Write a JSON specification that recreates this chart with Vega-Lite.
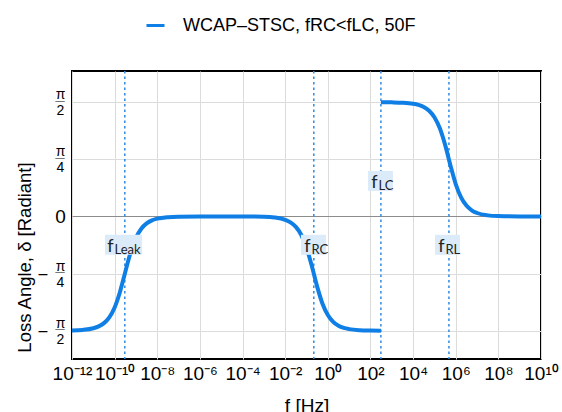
{
  "$schema": "https://vega.github.io/schema/vega-lite/v6.json",
  "width": 469,
  "height": 288,
  "autosize": {"type": "none"},
  "padding": {"left": 72, "top": 71, "right": 21, "bottom": 53},
  "background": "white",
  "config": {
    "view": {"stroke": "#000", "strokeWidth": 2},
    "font": "Liberation Sans",
    "axis": {"domain": false, "ticks": false, "labelColor": "#000", "titleColor": "#000", "titleFontWeight": "normal", "titleFont": "Liberation Sans", "titleFontSize": 18}
  },
  "datasets": {
    "curve": [
      {"f": 1e-12, "delta": -1.5675, "seg": "a"},
      {"f": 3.162e-12, "delta": -1.5603, "seg": "a"},
      {"f": 1e-11, "delta": -1.5377, "seg": "a"},
      {"f": 1.778e-11, "delta": -1.512, "seg": "a"},
      {"f": 3.162e-11, "delta": -1.4665, "seg": "a"},
      {"f": 5.623e-11, "delta": -1.3867, "seg": "a"},
      {"f": 1e-10, "delta": -1.251, "seg": "a"},
      {"f": 1.778e-10, "delta": -1.0384, "seg": "a"},
      {"f": 3.162e-10, "delta": -0.7624, "seg": "a"},
      {"f": 5.623e-10, "delta": -0.4927, "seg": "a"},
      {"f": 1e-9, "delta": -0.2928, "seg": "a"},
      {"f": 1.778e-9, "delta": -0.1682, "seg": "a"},
      {"f": 3.162e-9, "delta": -0.0952, "seg": "a"},
      {"f": 5.623e-9, "delta": -0.0537, "seg": "a"},
      {"f": 1e-8, "delta": -0.0302, "seg": "a"},
      {"f": 3.162e-8, "delta": -0.0095, "seg": "a"},
      {"f": 1e-7, "delta": -0.003, "seg": "a"},
      {"f": 1e-6, "delta": -0.0004, "seg": "a"},
      {"f": 1e-5, "delta": -0.0001, "seg": "a"},
      {"f": 1e-4, "delta": -0.0005, "seg": "a"},
      {"f": 1e-3, "delta": -0.0046, "seg": "a"},
      {"f": 3.162e-3, "delta": -0.0144, "seg": "a"},
      {"f": 0.01, "delta": -0.0457, "seg": "a"},
      {"f": 0.01778, "delta": -0.0811, "seg": "a"},
      {"f": 0.03162, "delta": -0.1436, "seg": "a"},
      {"f": 0.05623, "delta": -0.2516, "seg": "a"},
      {"f": 0.1, "delta": -0.4288, "seg": "a"},
      {"f": 0.1778, "delta": -0.6826, "seg": "a"},
      {"f": 0.3162, "delta": -0.9654, "seg": "a"},
      {"f": 0.5623, "delta": -1.1999, "seg": "a"},
      {"f": 1, "delta": -1.3554, "seg": "a"},
      {"f": 1.778, "delta": -1.4484, "seg": "a"},
      {"f": 3.162, "delta": -1.5017, "seg": "a"},
      {"f": 5.623, "delta": -1.5319, "seg": "a"},
      {"f": 10, "delta": -1.5489, "seg": "a"},
      {"f": 31.62, "delta": -1.5639, "seg": "a"},
      {"f": 100, "delta": -1.5686, "seg": "a"},
      {"f": 309, "delta": -1.5701, "seg": "a"},
      {"f": 309, "delta": 1.5702, "seg": "b"},
      {"f": 1000, "delta": 1.5687, "seg": "b"},
      {"f": 3162, "delta": 1.5642, "seg": "b"},
      {"f": 1e4, "delta": 1.5499, "seg": "b"},
      {"f": 1.778e4, "delta": 1.5337, "seg": "b"},
      {"f": 3.162e4, "delta": 1.5048, "seg": "b"},
      {"f": 5.623e4, "delta": 1.4538, "seg": "b"},
      {"f": 1e5, "delta": 1.3648, "seg": "b"},
      {"f": 1.778e5, "delta": 1.2151, "seg": "b"},
      {"f": 3.162e5, "delta": 0.9872, "seg": "b"},
      {"f": 5.623e5, "delta": 0.705, "seg": "b"},
      {"f": 1e6, "delta": 0.4462, "seg": "b"},
      {"f": 1.778e6, "delta": 0.2622, "seg": "b"},
      {"f": 3.162e6, "delta": 0.1502, "seg": "b"},
      {"f": 5.623e6, "delta": 0.0849, "seg": "b"},
      {"f": 1e7, "delta": 0.0478, "seg": "b"},
      {"f": 3.162e7, "delta": 0.0151, "seg": "b"},
      {"f": 1e8, "delta": 0.0048, "seg": "b"},
      {"f": 1e9, "delta": 0.0005, "seg": "b"},
      {"f": 1e10, "delta": 0.0, "seg": "b"}
    ],
    "lines": [{"f": 3.0e-10}, {"f": 0.22}, {"f": 309}, {"f": 4.8e5}],
    "labels": [
      {"f": 2.6e-10, "delta": -0.39, "sub": "Leak"},
      {"f": 0.212, "delta": -0.39, "sub": "RC"},
      {"f": 295, "delta": 0.488, "sub": "LC"},
      {"f": 4.1e5, "delta": -0.39, "sub": "RL"}
    ],
    "neg": [{"f": 1e-12, "delta": -0.7853982}, {"f": 1e-12, "delta": -1.5707963}],
    "frac": [{"f": 1e-12, "delta": -1.5707963}, {"f": 1e-12, "delta": -0.7853982}, {"f": 1e-12, "delta": 0.7853982}, {"f": 1e-12, "delta": 1.5707963}]
  },
  "layer": [
    {
      "data": {"name": "lines"},
      "mark": {"type": "rule", "strokeDash": [2.5, 3], "strokeWidth": 1.5, "color": "#2e8ae6"},
      "encoding": {
        "x": {
          "field": "f", "type": "quantitative",
          "scale": {"type": "log", "domain": [1e-12, 1e10], "nice": false},
          "axis": {
            "title": "f [Hz]",
            "values": [1e-12, 1e-10, 1e-8, 1e-6, 1e-4, 1e-2, 1, 1e2, 1e4, 1e6, 1e8, 1e10],
            "labelExpr": "'10' + (datum.value < 1 ? '⁻' : '') + (abs(round(log(datum.value)/LN10)) >= 10 ? '¹' : '') + ['⁰','¹','²','³','⁴','⁵','⁶','⁷','⁸','⁹'][abs(round(log(datum.value)/LN10)) % 10]",
            "labelFontSize": 19,
            "labelFont": "Liberation Sans",
            "labelOverlap": false,
            "labelBound": false,
            "labelFlush": false,
            "labelPadding": 5,
            "grid": true,
            "gridColor": "#dcdcdc",
            "titleFontSize": 19,
            "titleY": 52,
            "titleBaseline": "alphabetic"
          }
        }
      }
    },
    {
      "data": {"name": "curve"},
      "mark": {"type": "line", "strokeWidth": 4, "interpolate": "monotone"},
      "encoding": {
        "x": {"field": "f", "type": "quantitative", "scale": {"type": "log", "domain": [1e-12, 1e10], "nice": false}},
        "y": {
          "field": "delta", "type": "quantitative",
          "scale": {"domain": [-1.96, 2.0], "nice": false, "zero": false},
          "axis": {
            "title": "Loss Angle, δ [Radiant]",
            "values": [-1.5707963, -0.7853982, 0, 0.7853982, 1.5707963],
            "labelExpr": "datum.value == 0 ? '0' : (abs(datum.value) > 1 ? ['π','2'] : ['π','4'])",
            "labelFontSize": {"condition": {"test": "datum.value == 0", "value": 19}, "value": 14},
            "labelLineHeight": 16,
            "labelAlign": "center",
            "labelOffset": {"condition": {"test": "datum.value == 0", "value": 0}, "value": -7.5},
            "labelPadding": 12,
            "grid": true,
            "gridColor": {"condition": {"test": "datum.value == 0", "value": "#8c8c8c"}, "value": "#dcdcdc"},
            "titleX": -48,
            "titleY": 186,
            "titleBaseline": "middle",
            "titleFontSize": 18.5
          }
        },
        "detail": {"field": "seg"},
        "color": {
          "datum": "WCAP–STSC, fRC<fLC, 50F",
          "scale": {"range": ["#0f7fe6"]},
          "legend": {
            "orient": "none", "legendX": 73, "legendY": -56, "title": null,
            "symbolType": "stroke", "symbolStrokeWidth": 3, "symbolSize": 324,
            "labelFontSize": 18, "labelFont": "Liberation Sans", "labelLimit": 400,
            "labelOffset": 17, "padding": 0, "labelColor": "#000"
          }
        }
      }
    },
    {
      "data": {"name": "labels"},
      "transform": [{"filter": "datum.sub == 'Leak'"}],
      "mark": {"type": "point", "shape": "M-1,-0.54L1,-0.54L1,0.54L-1,0.54Z", "size": 1369, "filled": true, "fill": "#dcebfa", "opacity": 1, "strokeWidth": 0},
      "encoding": {
        "x": {"field": "f", "type": "quantitative", "scale": {"type": "log", "domain": [1e-12, 1e10], "nice": false}},
        "y": {"field": "delta", "type": "quantitative", "scale": {"domain": [-1.96, 2.0], "nice": false, "zero": false}}
      }
    },
    {
      "data": {"name": "labels"},
      "transform": [{"filter": "datum.sub != 'Leak'"}],
      "mark": {"type": "point", "shape": "M-1,-0.8L1,-0.8L1,0.8L-1,0.8Z", "size": 625, "filled": true, "fill": "#dcebfa", "opacity": 1, "strokeWidth": 0},
      "encoding": {
        "x": {"field": "f", "type": "quantitative", "scale": {"type": "log", "domain": [1e-12, 1e10], "nice": false}},
        "y": {"field": "delta", "type": "quantitative", "scale": {"domain": [-1.96, 2.0], "nice": false, "zero": false}}
      }
    },
    {
      "data": {"name": "labels"},
      "transform": [{"filter": "datum.sub == 'Leak'"}],
      "layer": [
        {"mark": {"type": "text", "text": "f", "font": "Lato", "fontSize": 18, "align": "right", "baseline": "alphabetic", "dx": -10, "dy": 7, "color": "#222"}},
        {"mark": {"type": "text", "font": "Lato", "fontSize": 13, "align": "left", "baseline": "alphabetic", "dx": -9, "dy": 9, "color": "#222"}, "encoding": {"text": {"field": "sub"}}}
      ],
      "encoding": {
        "x": {"field": "f", "type": "quantitative", "scale": {"type": "log", "domain": [1e-12, 1e10], "nice": false}},
        "y": {"field": "delta", "type": "quantitative", "scale": {"domain": [-1.96, 2.0], "nice": false, "zero": false}}
      }
    },
    {
      "data": {"name": "labels"},
      "transform": [{"filter": "datum.sub != 'Leak'"}],
      "layer": [
        {"mark": {"type": "text", "text": "f", "font": "Lato", "fontSize": 18, "align": "right", "baseline": "alphabetic", "dx": -3, "dy": 7, "color": "#222"}},
        {"mark": {"type": "text", "font": "Lato", "fontSize": 13, "align": "left", "baseline": "alphabetic", "dx": -2, "dy": 9, "color": "#222"}, "encoding": {"text": {"field": "sub"}}}
      ],
      "encoding": {
        "x": {"field": "f", "type": "quantitative", "scale": {"type": "log", "domain": [1e-12, 1e10], "nice": false}},
        "y": {"field": "delta", "type": "quantitative", "scale": {"domain": [-1.96, 2.0], "nice": false, "zero": false}}
      }
    },
    {
      "data": {"name": "neg"},
      "mark": {"type": "text", "text": "–", "fontSize": 16, "align": "center", "baseline": "middle", "dx": -29, "color": "#000"},
      "encoding": {
        "x": {"field": "f", "type": "quantitative", "scale": {"type": "log", "domain": [1e-12, 1e10], "nice": false}},
        "y": {"field": "delta", "type": "quantitative", "scale": {"domain": [-1.96, 2.0], "nice": false, "zero": false}}
      }
    },
    {
      "data": {"name": "frac"},
      "mark": {"type": "text", "text": "—", "fontSize": 9.5, "align": "center", "baseline": "middle", "dx": -12, "dy": -1.5, "color": "#000"},
      "encoding": {
        "x": {"field": "f", "type": "quantitative", "scale": {"type": "log", "domain": [1e-12, 1e10], "nice": false}},
        "y": {"field": "delta", "type": "quantitative", "scale": {"domain": [-1.96, 2.0], "nice": false, "zero": false}}
      }
    }
  ]
}
